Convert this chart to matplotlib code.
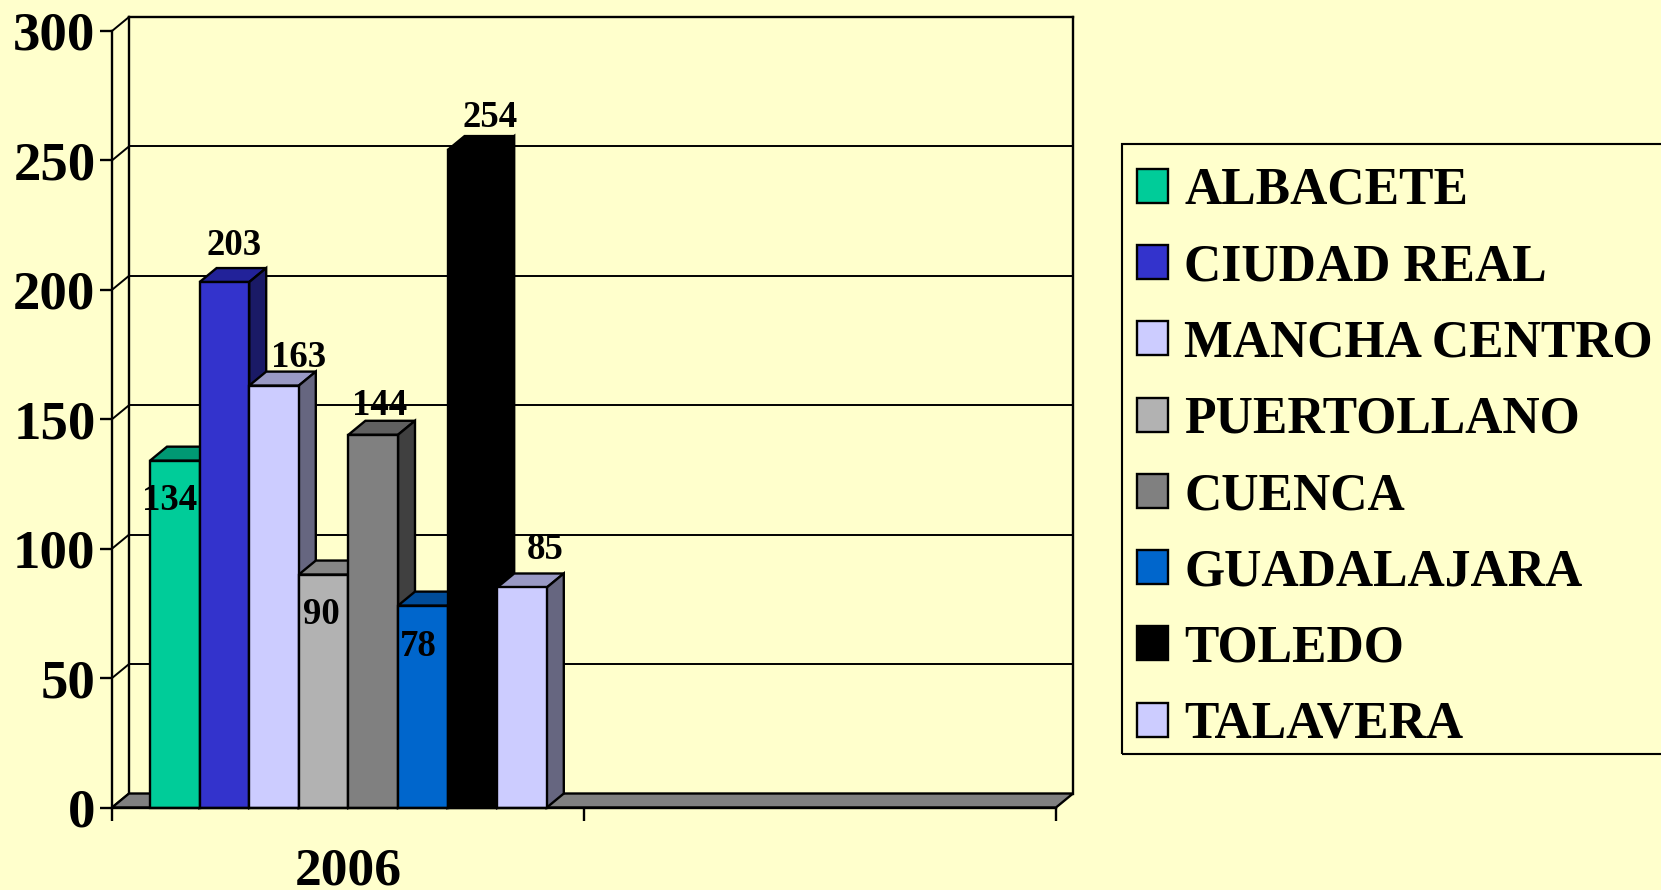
import matplotlib
matplotlib.use("Agg")
import matplotlib.pyplot as plt
from matplotlib.patches import Polygon, Rectangle

# --- data ---
hospitals = ["ALBACETE", "CIUDAD REAL", "MANCHA CENTRO", "PUERTOLLANO",
             "CUENCA", "GUADALAJARA", "TOLEDO", "TALAVERA"]
values_2006 = [134, 203, 163, 90, 144, 78, 254, 85]
year_label = "2006"
y_ticks = [0, 50, 100, 150, 200, 250, 300]

# --- style ---
front_colors = ["#00CC99", "#3333CC", "#CCCCFF", "#B2B2B2", "#808080", "#0066CC", "#000000", "#CCCCFF"]
top_colors = ["#009973", "#222299", "#9999C4", "#868686", "#606060", "#004C99", "#000000", "#9999C4"]
side_colors = ["#007050", "#1A1A66", "#666680", "#5A5A5A", "#404040", "#003366", "#000000", "#666680"]
label_offsets_px = [(-5, -40), (10, 37), (25, 28), (-2, -40), (6, 29), (-4, -41), (18, 33), (23, 38)]
BG = "#FFFFCC"
W, H = 1661, 890
L, R, B, T = 112, 1056, 807.5, 31
DX_PX, DY_PX = 17, 14

plt.rcParams["font.family"] = ["Liberation Serif", "DejaVu Serif"]
plt.rcParams["font.weight"] = "bold"

fig = plt.figure(figsize=(W / 100, H / 100), dpi=100, facecolor=BG)
ax = fig.add_axes([L / W, 1 - B / H, (R - L) / W, (B - T) / H])
ax.set_xlim(0, 2)
ax.set_ylim(0, 300)
ax.patch.set_visible(False)

dx = DX_PX * 2 / (R - L)
dy = DY_PX * 300 / (B - T)
lw_axis = 1.7
lw_grid = 1.4

# floor
ax.add_patch(Polygon([(0, 0), (dx, dy), (2 + dx, dy), (2, 0)], closed=True,
                     facecolor="#808080", edgecolor="black", lw=lw_axis, clip_on=False, zorder=1))
# walls and grid
for t in y_ticks:
    ax.plot([dx, 2 + dx], [t + dy, t + dy], color="black", lw=lw_grid if t < 300 else lw_axis,
            clip_on=False, zorder=0.5)
    ax.plot([0, dx], [t, t + dy], color="black", lw=lw_grid, clip_on=False, zorder=0.5)
ax.plot([dx, dx], [dy, 300 + dy], color="black", lw=lw_axis, clip_on=False, zorder=0.6)
ax.plot([2 + dx, 2 + dx], [dy, 300 + dy], color="black", lw=lw_axis, clip_on=False, zorder=0.6)

# bars
bar_w = 49.6 * 2 / (R - L)
start = (150 - L) * 2 / (R - L)
handles = []
for i, (name, v) in enumerate(zip(hospitals, values_2006)):
    x0 = start + i * bar_w
    x1 = x0 + bar_w
    z = 3 + i
    edge = "black"
    bc = ax.bar(x0, v, width=bar_w, align="edge", color=front_colors[i], edgecolor=edge,
                linewidth=lw_axis, zorder=z + 0.2, label=name, clip_on=False)
    handles.append(bc[0])
    ax.add_patch(Polygon([(x0, v), (x0 + dx, v + dy), (x1 + dx, v + dy), (x1, v)], closed=True,
                         facecolor=top_colors[i], edgecolor=edge, lw=lw_axis, zorder=z, clip_on=False))
    ax.add_patch(Polygon([(x1, 0), (x1 + dx, dy), (x1 + dx, v + dy), (x1, v)], closed=True,
                         facecolor=side_colors[i], edgecolor=edge, lw=lw_axis, zorder=z, clip_on=False))

# data labels
for i, v in enumerate(values_2006):
    xc = start + (i + 0.5) * bar_w
    ax.annotate(str(v), (xc, v), xytext=label_offsets_px[i], textcoords="offset pixels",
                ha="center", va="center", fontsize=26.5, fontweight="bold", color="black",
                zorder=30, annotation_clip=False)

# axes
for s in ("top", "right"):
    ax.spines[s].set_visible(False)
for s in ("left", "bottom"):
    ax.spines[s].set_linewidth(lw_axis)
    ax.spines[s].set_zorder(20)
ax.set_yticks(y_ticks)
ax.tick_params(axis="y", length=8.6, width=lw_axis, pad=3.2, labelsize=39.5)
ax.set_xticks([0, 1, 2])
ax.set_xticklabels([])
ax.tick_params(axis="x", which="major", length=9.4, width=lw_axis)
ax.set_xticks([0.5], [year_label], minor=True)
ax.tick_params(axis="x", which="minor", length=0, pad=28.5, labelsize=38.5)

# legend
fs = 37.2
fig.add_artist(Rectangle((1122 / W, 1 - 754 / H), 600 / W, (754 - 144) / H, transform=fig.transFigure,
                         facecolor="none", edgecolor="black", lw=lw_axis * 0.9, zorder=39))
leg = ax.legend(handles=handles, labels=hospitals, loc="upper left",
                bbox_to_anchor=(1137 / W, 1 - 167 / H), bbox_transform=fig.transFigure,
                borderaxespad=0, frameon=False, handlelength=0.6, handleheight=0.64,
                handletextpad=0.31, labelspacing=0.547, borderpad=0,
                prop={"family": "Liberation Serif", "weight": "bold", "size": fs})
leg.set_zorder(40)

fig.savefig("out.png", dpi=100, facecolor=BG)
